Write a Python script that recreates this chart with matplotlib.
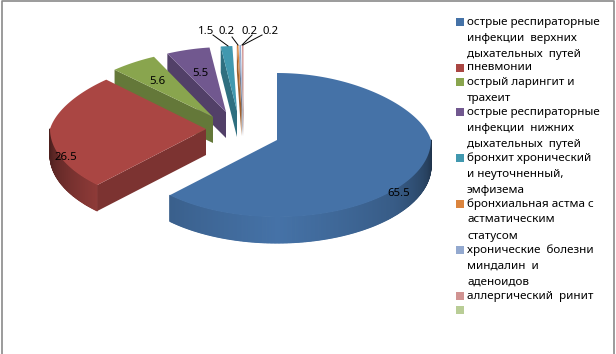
import numpy as np
import matplotlib
matplotlib.use('Agg')
import matplotlib.pyplot as plt
from matplotlib.colors import to_rgb

# значения из подписей
values = [65.5, 26.5, 5.6, 5.5, 1.5, 0.2, 0.2, 0.2, 0.0]
names = [
    ['острые респираторные', 'инфекции  верхних', 'дыхательных  путей'],
    ['пневмонии'],
    ['острый ларингит и', 'трахеит'],
    ['острые респираторные', 'инфекции  нижних', 'дыхательных  путей'],
    ['бронхит хронический', 'и неуточненный,', 'эмфизема'],
    ['бронхиальная астма с', 'астматическим', 'статусом'],
    ['хронические  болезни', 'миндалин  и', 'аденоидов'],
    ['аллергический  ринит'],
    [''],
]
colors = ['#4572A7', '#AA4643', '#89A54E', '#71588F', '#4198AF',
          '#DB843D', '#93A9CF', '#D19392', '#B9CD96']

# вершина и радиусы каждого сектора, в пикселях рисунка
apex_x = [277, 206, 213, 226, 237, 241.5, 242.5, 243.5]
apex_y = [140, 129, 117, 112, 111, 110, 110, 110]
rad_x = [154, 156, 154, 153, 151, 151, 151, 151]
rad_up = [67, 70, 67, 65, 65, 65, 65, 65]
rad_down = [77, 78, 78, 78, 78, 78, 78, 78]
back_narrow = 0.14  # задняя часть круга уже из-за перспективы
depth = 26

label_pos = [(399, 194), (66, 157), (157, 81), (200, 73),
             (206, 31), (227, 31), (250, 31), (271, 31)]
leaders = [((213, 35), (228, 46)), ((232, 37), (238, 45)),
           ((252, 35), (242, 45)), ((262, 35), (243, 45))]

shade_ang = [90, 105, 130, 180, 224, 270]
shade_val = [0.42, 0.58, 0.8, 1.0, 0.84, 0.45]

plt.rcParams['font.family'] = ['Noto Sans', 'DejaVu Sans']

fig = plt.figure(figsize=(6.16, 3.54), dpi=100)
ax = fig.add_axes([0, 0, 1, 1])
ax.set_xlim(0, 616)
ax.set_ylim(354, 0)
ax.axis('off')


def darker(c, k):
    return tuple(np.array(to_rgb(c)) * k)


def rim_xy(i, th):
    t = np.radians(th)
    c = np.cos(t)
    narrow = 1 - back_narrow * np.clip(c, 0, 1)
    x = apex_x[i] + rad_x[i] * narrow * np.sin(t)
    y = apex_y[i] - np.where(c > 0, rad_up[i], rad_down[i]) * c
    return x, y


angles = np.cumsum([0] + values) / sum(values) * 360

# сзади наперед: тонкие секторы, затем красный и синий
for i in [7, 6, 5, 4, 3, 2, 1, 0]:
    a0, a1 = angles[i], angles[i + 1]
    th = np.linspace(a0, a1, max(int(a1 - a0) * 2, 6))
    xs, ys = rim_xy(i, th)

    # внешняя боковая поверхность
    for j in range(len(th) - 1):
        if th[j + 1] < 90 or th[j] > 270:
            continue
        k = np.interp((th[j] + th[j + 1]) / 2, shade_ang, shade_val)
        ax.fill([xs[j], xs[j + 1], xs[j + 1], xs[j]],
                [ys[j], ys[j + 1], ys[j + 1] + depth, ys[j] + depth],
                color=darker(colors[i], k), lw=0.8, zorder=2 + (7 - i) * 3)

    # срез сектора
    if i > 0:
        ax.fill([xs[0], apex_x[i], apex_x[i], xs[0]],
                [ys[0], apex_y[i], apex_y[i] + depth, ys[0] + depth],
                color=darker(colors[i], 0.73), lw=0, zorder=3 + (7 - i) * 3)

    # верх
    ax.fill(np.r_[apex_x[i], xs], np.r_[apex_y[i], ys],
            color=colors[i], lw=0, zorder=4 + (7 - i) * 3)

for i, (x, y) in enumerate(label_pos):
    ax.text(x, y, str(values[i]), fontsize=8.2, ha='center', va='center',
            color='black', zorder=50)
for p, q in leaders:
    ax.plot([p[0], q[0]], [p[1], q[1]], color='black', lw=0.7, zorder=49)

# легенда
y = 22
for i, lines in enumerate(names):
    ax.fill([456, 464, 464, 456], [y - 4, y - 4, y + 4, y + 4],
            color=colors[i], lw=0)
    for n, line in enumerate(lines):
        if n > 0:
            y += 16
        ax.text(467, y, line, fontsize=8.4, ha='left', va='center', color='black')
    y += 14

# рамка
ax.plot([2, 2, 614, 614], [354, 1, 1, 354], color='#8a8a8a', lw=1.2)

fig.savefig('out.png', dpi=100)
